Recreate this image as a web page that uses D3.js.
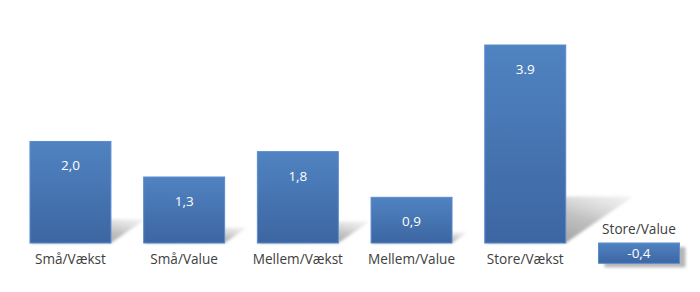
<!DOCTYPE html>
<html lang="da">
<head>
<meta charset="UTF-8">
<title>Afkast</title>
<script src="https://d3js.org/d3.v7.min.js"></script>
<style>
  body { margin: 0; background: #fff; }
  text { font-family: "Open Sans", "Noto Sans", sans-serif; }
</style>
</head>
<body>
<svg width="700" height="292"></svg>
<script>
// data
const categories = ["Små/Vækst", "Små/Value", "Mellem/Vækst", "Mellem/Value", "Store/Vækst", "Store/Value"];
const values = [2.0, 1.3, 1.8, 0.9, 3.9, -0.4];
const valueLabels = ["2,0", "1,3", "1,8", "0,9", "3.9", "-0,4"];

const data = categories.map((c, i) => ({ cat: c, value: values[i], label: valueLabels[i] }));

const svg = d3.select("svg");

const x = d3.scaleBand()
    .domain(categories)
    .range([13.6, 695.8])
    .paddingInner(0.288)
    .paddingOuter(0.144);

const y = d3.scaleLinear()
    .domain([0, 3.9])
    .range([243, 45]);

const defs = svg.append("defs");

// bar fill gradient
const grad = defs.append("linearGradient")
    .attr("id", "barGrad")
    .attr("x1", 0).attr("y1", 0).attr("x2", 0).attr("y2", 1);
grad.append("stop").attr("offset", "0%").attr("stop-color", "#5083c1");
grad.append("stop").attr("offset", "100%").attr("stop-color", "#3c66a2");

// shadow gradient + blur
const sgrad = defs.append("linearGradient")
    .attr("id", "shadowGrad")
    .attr("x1", 0).attr("y1", 1).attr("x2", 1).attr("y2", 0);
sgrad.append("stop").attr("offset", "0%").attr("stop-color", "#7a7a7a").attr("stop-opacity", 0.95);
sgrad.append("stop").attr("offset", "60%").attr("stop-color", "#a8a8a8").attr("stop-opacity", 0.7);
sgrad.append("stop").attr("offset", "100%").attr("stop-color", "#d8d8d8").attr("stop-opacity", 0.3);

defs.append("filter").attr("id", "blur")
    .attr("x", "-20%").attr("y", "-20%").attr("width", "140%").attr("height", "140%")
    .append("feGaussianBlur").attr("stdDeviation", 1.8);

// perspective shadows behind the bars
const base = y(0);
svg.append("g").selectAll("path")
    .data(data.filter(d => d.value > 0))
    .enter()
    .append("path")
    .attr("d", d => {
        const h = base - y(d.value);
        const dx = h * 0.34, dy = h * 0.235;
        const x0 = x(d.cat), x1 = x(d.cat) + x.bandwidth();
        return `M${x0},${base} L${x1},${base} L${x1 + dx},${base - dy} L${x0 + dx},${base - dy} Z`;
    })
    .attr("fill", "url(#shadowGrad)")
    .attr("filter", "url(#blur)");

// small shadow under the negative bar
svg.append("g").selectAll("rect")
    .data(data.filter(d => d.value < 0))
    .enter()
    .append("rect")
    .attr("x", d => x(d.cat) + 6)
    .attr("y", d => y(0) + 4)
    .attr("width", x.bandwidth())
    .attr("height", d => y(d.value) - y(0))
    .attr("fill", "#b5b5b5")
    .attr("filter", "url(#blur)");

// bars
svg.append("g").selectAll("rect")
    .data(data)
    .enter()
    .append("rect")
    .attr("x", d => x(d.cat))
    .attr("y", d => y(Math.max(0, d.value)))
    .attr("width", x.bandwidth())
    .attr("height", d => Math.abs(y(d.value) - y(0)))
    .attr("fill", "url(#barGrad)")
    .attr("stroke", "#5a8bd0")
    .attr("stroke-width", 1);

// value labels
svg.append("g").selectAll("text")
    .data(data)
    .enter()
    .append("text")
    .attr("x", d => x(d.cat) + x.bandwidth() / 2)
    .attr("y", d => d.value >= 0 ? y(d.value) + 29 : (y(0) + y(d.value)) / 2 + 5)
    .attr("text-anchor", "middle")
    .attr("fill", "#ffffff")
    .style("font-size", "13.5px")
    .text(d => d.label);

// category labels
svg.append("g").selectAll("text")
    .data(data)
    .enter()
    .append("text")
    .attr("x", d => x(d.cat) + x.bandwidth() / 2)
    .attr("y", d => d.value >= 0 ? y(0) + 21 : y(0) - 9)
    .attr("text-anchor", "middle")
    .attr("fill", "#404040")
    .style("font-size", "13.6px")
    .text(d => d.cat);
</script>
</body>
</html>
